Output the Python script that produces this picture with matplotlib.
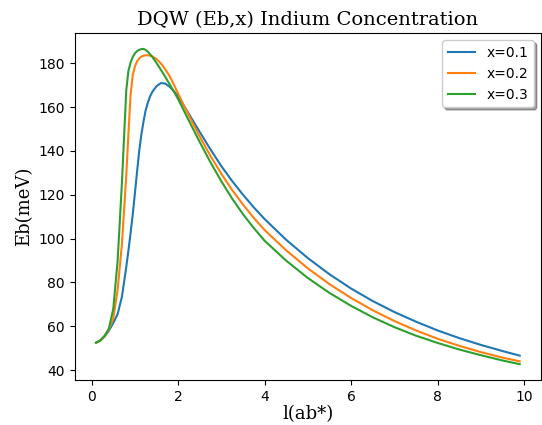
import matplotlib
matplotlib.use('Agg')
import matplotlib.pyplot as plt

# l(ab*) sample points
l_ab = [0.1, 0.2, 0.3, 0.4, 0.5, 0.6, 0.7, 0.8,
        0.85, 0.9, 0.95, 1.0, 1.05, 1.1, 1.15, 1.2, 1.25, 1.3, 1.35, 1.4,
        1.5, 1.6, 1.7, 1.8, 1.9, 2.0,
        2.25, 2.5, 2.75, 3.0, 3.25, 3.5, 3.75, 4.0,
        4.5, 5.0, 5.5, 6.0, 6.5, 7.0, 7.5, 8.0, 8.5, 9.0, 9.5, 9.9]

# Eb (meV) for each indium concentration
eb_01 = [52.5, 53.5, 55.3, 58.0, 61.5, 65.5, 73.5, 87.0,
         94.5, 102.5, 111.0, 120.6, 130.5, 140.0, 147.5, 153.5, 158.6, 162.0, 164.8, 166.8,
         169.5, 170.9, 170.7, 169.3, 167.3, 164.8,
         156.8, 148.6, 140.6, 133.0, 126.2, 120.0, 114.2, 108.9,
         99.4, 91.1, 83.7, 77.2, 71.5, 66.5, 62.1, 58.1, 54.6, 51.5, 48.7, 46.6]
eb_02 = [52.5, 53.5, 55.5, 58.5, 63.5, 76.5, 97.5, 128.5,
         147.7, 165.5, 174.5, 178.5, 180.8, 182.2, 183.0, 183.4, 183.6, 183.6, 183.4, 183.1,
         181.9, 179.9, 177.3, 174.2, 170.3, 166.1,
         156.0, 146.5, 137.6, 129.5, 122.1, 115.5, 109.4, 103.9,
         94.6, 86.4, 79.2, 72.9, 67.3, 62.4, 58.1, 54.3, 51.1, 48.2, 45.7, 44.0]
eb_03 = [52.5, 53.5, 55.7, 59.0, 68.0, 89.7, 125.5, 167.5,
         176.5, 180.3, 182.8, 184.5, 185.5, 186.1, 186.4, 186.5, 186.0, 185.2, 184.1, 182.9,
         180.1, 177.0, 173.8, 170.5, 167.1, 163.6,
         153.7, 144.0, 134.7, 126.1, 118.2, 111.1, 104.8, 99.0,
         89.9, 82.0, 75.2, 69.3, 64.1, 59.6, 55.7, 52.4, 49.4, 46.8, 44.4, 42.7]

fig = plt.figure(figsize=(5.42, 4.25), dpi=100)
ax = fig.add_axes([0.138, 0.106, 0.860, 0.816])

ax.plot(l_ab, eb_01, label='x=0.1')
ax.plot(l_ab, eb_02, label='x=0.2')
ax.plot(l_ab, eb_03, label='x=0.3')

ax.set_title('DQW (Eb,x) Indium Concentration', family='serif', fontsize=14)
ax.set_xlabel('l(ab*)', family='serif', fontsize=13, labelpad=1)
ax.set_ylabel('Eb(meV)', family='serif', fontsize=13)
ax.legend(loc='upper right', shadow=True)

fig.savefig('out.png', dpi=100)
